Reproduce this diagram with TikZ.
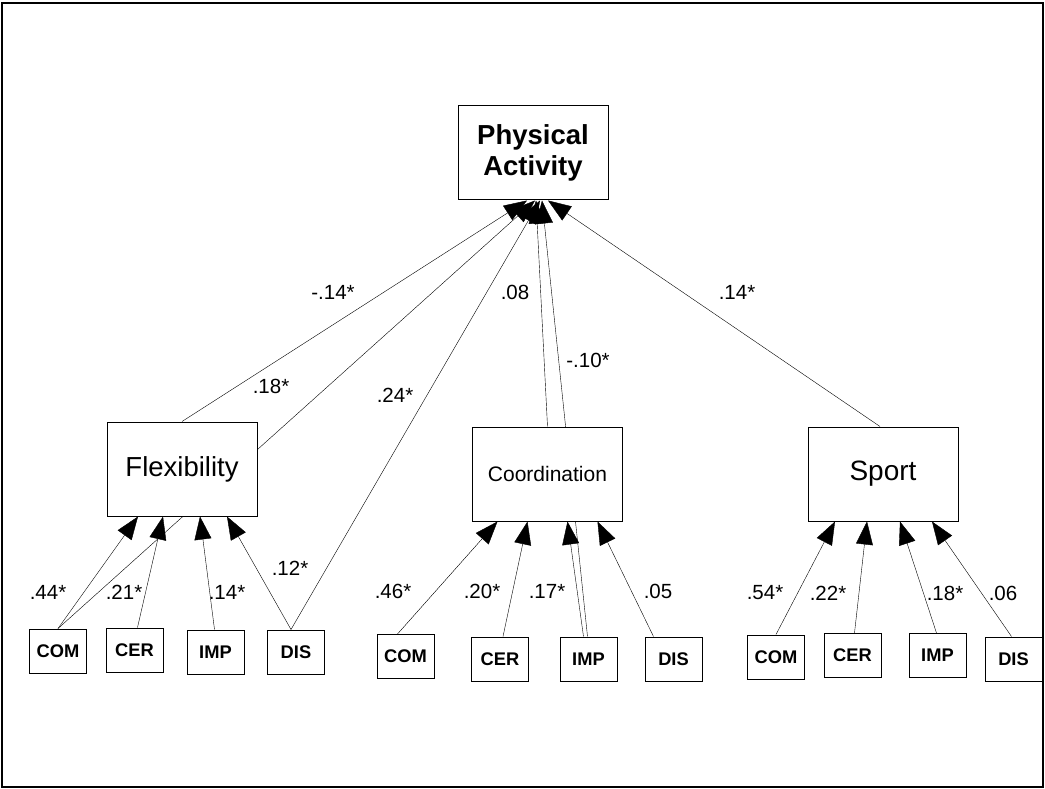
\documentclass[tikz,border=0pt]{standalone}
\usepackage{fontspec}
\setmainfont{Liberation Sans}
\usetikzlibrary{arrows.meta,calc}
\pgfdeclarelayer{background}
\pgfsetlayers{background,main}
\tikzset{arr/.style={-{Triangle[length=23pt,width=17pt]}}}
\tikzstyle{factor}=[draw,fill=white,minimum width=150pt,minimum height=94pt,inner sep=0,line width=1pt]
\newcommand{\drawfactor}{\node[factor]}
\newcommand{\drawitem}{\node[draw,fill=white,minimum width=57pt,minimum height=44pt,inner sep=0,line width=1pt,font=\fontsize{18.3}{20}\selectfont\bfseries]}
\newcommand{\drawcoef}{\node[inner sep=0,font=\fontsize{20.5}{22}\selectfont]}
\begin{document}
\begin{tikzpicture}[x=1pt,y=-1pt,line width=0.8pt]
	
	\useasboundingbox (0,0) rectangle (1045,789);
	\draw[line width=2pt] (2,3) rectangle (1043,787);
	
	\drawfactor[font=\fontsize{27.5}{31}\selectfont\bfseries,align=center] (pa) at (533,153) {Physical\\Activity};
	\drawfactor[font=\fontsize{27.5}{30}\selectfont] (flex) at (182,469) {Flexibility};
	\drawfactor[font=\fontsize{21}{24}\selectfont] (coord) at (547.5,474) {Coordination};
	\drawfactor[font=\fontsize{28}{30}\selectfont] (sport) at (883,474) {Sport};
	
	\drawitem (fcom) at (58,651) {COM};
	\drawitem (fcer) at (134.5,650) {CER};
	\drawitem (fimp) at (215.5,652) {IMP};
	\drawitem (fdis) at (296,652) {DIS};
	\drawitem (ccom) at (405.5,656.5) {COM};
	\drawitem (ccer) at (500,659) {CER};
	\drawitem (cimp) at (588.5,659) {IMP};
	\drawitem (cdis) at (673.5,659) {DIS};
	\drawitem (scom) at (776,657) {COM};
	\drawitem (scer) at (852.5,655.5) {CER};
	\drawitem (simp) at (937.5,655.5) {IMP};
	\drawitem (sdis) at (1013.5,659) {DIS};
	
	\begin{pgfonlayer}{background}
	% paths to physical activity
	\draw[arr] (flex.north) to ([xshift=-6]pa.south);
	\draw[arr] (fcom.north) to ([xshift=2]pa.south);
	\draw[arr] ([xshift=-5]fdis.north) to ([xshift=7]pa.south);
	\draw[arr] (coord.north) to ([xshift=3]pa.south);
	\draw[arr] ([xshift=-1]cimp.north) to ([xshift=9]pa.south);
	\draw[arr] ([xshift=-3]sport.north) to ([xshift=15]pa.south);
	
	\draw[arr] (fcom.north) to ([xshift=-44]flex.south);
	\draw[arr] ([xshift=3]fcer.north) to ([xshift=-19]flex.south);
	\draw[arr] ([xshift=-1]fimp.north) to ([xshift=18]flex.south);
	\draw[arr] ([xshift=-5]fdis.north) to ([xshift=45]flex.south);
	
	\draw[arr] ([xshift=-8]ccom.north) to ([xshift=-50]coord.south);
	\draw[arr] ([xshift=3]ccer.north) to ([xshift=-20]coord.south);
	\draw[arr] ([xshift=-5]cimp.north) to ([xshift=20]coord.south);
	\draw[arr] ([xshift=-20]cdis.north) to ([xshift=50]coord.south);
	
	\draw[arr] (scom.north) to ([xshift=-48]sport.south);
	\draw[arr] ([xshift=2]scer.north) to ([xshift=-16]sport.south);
	\draw[arr] ([xshift=-1]simp.north) to ([xshift=17]sport.south);
	\draw[arr] ([xshift=-2]sdis.north) to ([xshift=49]sport.south);
	\end{pgfonlayer}
	
	\drawcoef (w1) at (333,292) {-.14*};
	\drawcoef (w2) at (271,386) {.18*};
	\drawcoef (w3) at (395,395) {.24*};
	\drawcoef (w4) at (515,292) {.08};
	\drawcoef (w5) at (588,360) {-.10*};
	\drawcoef (w6) at (737,292) {.14*};
	
	\drawcoef (f1) at (48,592) {.44*};
	\drawcoef (f2) at (124,592) {.21*};
	\drawcoef (f3) at (227,592) {.14*};
	\drawcoef (f4) at (290,568) {.12*};
	\drawcoef (c1) at (393,591) {.46*};
	\drawcoef (c2) at (482,591) {.20*};
	\drawcoef (c3) at (547,591) {.17*};
	\drawcoef (c4) at (658,591) {.05};
	\drawcoef (s1) at (765,593) {.54*};
	\drawcoef (s2) at (828,593) {.22*};
	\drawcoef (s3) at (945,593) {.18*};
	\drawcoef (s4) at (1003,593) {.06};
	
\end{tikzpicture}
\end{document}
